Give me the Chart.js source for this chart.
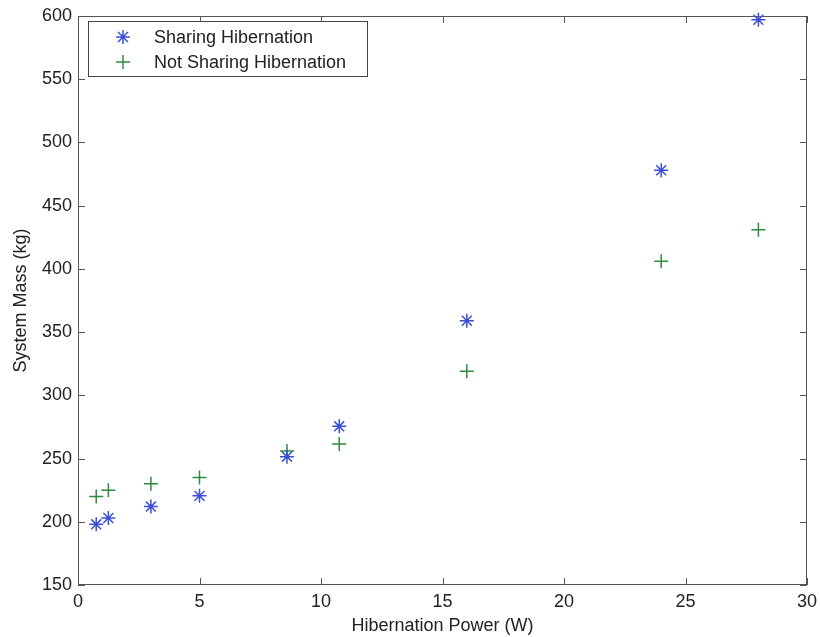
<!DOCTYPE html>
<html>
<head>
<meta charset="utf-8">
<script src="https://cdn.jsdelivr.net/npm/chart.js@4/dist/chart.umd.min.js"></script>
<style>
  html, body { margin: 0; padding: 0; background: #fff; }
  #wrap { width: 820px; height: 637px; }
</style>
</head>
<body>
<div id="wrap"><canvas id="c" width="820" height="637"></canvas></div>
<script>
const powerW = [0.75, 1.25, 3, 5, 8.6, 10.75, 16, 24, 28];
const sharingMass = [198, 203, 212, 220.5, 251.5, 275.5, 359, 478, 597];
const notSharingMass = [220, 225, 230, 235, 256, 261.5, 319, 406, 431];
const seriesLabels = ['Sharing Hibernation', 'Not Sharing Hibernation'];
const xTitle = 'Hibernation Power (W)';
const yTitle = 'System Mass (kg)';

const BLUE = '#3c4fd6';
const GREEN = '#2e8a40';
const AXIS = '#555555';
const FONT = 'Liberation Sans, Arial, Helvetica, sans-serif';

function pts(xs, ys) { return xs.map((x, i) => ({ x: x, y: ys[i] })); }

function drawMarker(ctx, style, x, y, r) {
  ctx.moveTo(x - r, y); ctx.lineTo(x + r, y);
  ctx.moveTo(x, y - r); ctx.lineTo(x, y + r);
  if (style === 'star') {
    const d = r * Math.SQRT1_2;
    ctx.moveTo(x - d, y - d); ctx.lineTo(x + d, y + d);
    ctx.moveTo(x - d, y + d); ctx.lineTo(x + d, y - d);
  }
}

const framePlugin = {
  id: 'frame',
  beforeDatasetsDraw(chart) {
    const ctx = chart.ctx;
    const a = chart.chartArea;
    const xs = chart.scales.x, ys = chart.scales.y;
    const tl = 7;
    ctx.save();
    ctx.strokeStyle = AXIS;
    ctx.lineWidth = 1;
    ctx.strokeRect(a.left + 0.5, a.top + 0.5, a.right - a.left - 1, a.bottom - a.top - 1);
    ctx.beginPath();
    xs.ticks.forEach(t => {
      const px = Math.round(xs.getPixelForValue(t.value)) + 0.5;
      ctx.moveTo(px, a.bottom); ctx.lineTo(px, a.bottom - tl);
      ctx.moveTo(px, a.top); ctx.lineTo(px, a.top + tl);
    });
    ys.ticks.forEach(t => {
      const py = Math.round(ys.getPixelForValue(t.value)) + 0.5;
      ctx.moveTo(a.left, py); ctx.lineTo(a.left + tl, py);
      ctx.moveTo(a.right, py); ctx.lineTo(a.right - tl, py);
    });
    ctx.stroke();
    ctx.restore();
  },
  afterDatasetsDraw(chart) {
    const ctx = chart.ctx;
    const a = chart.chartArea;
    ctx.save();
    const bx = a.left + 10, by = a.top + 5, bw = 279, bh = 55;
    ctx.fillStyle = '#ffffff';
    ctx.fillRect(bx, by, bw, bh);
    ctx.strokeStyle = '#444';
    ctx.lineWidth = 1;
    ctx.strokeRect(bx + 0.5, by + 0.5, bw, bh);
    ctx.font = '18px ' + FONT;
    ctx.textBaseline = 'middle';
    ctx.textAlign = 'left';
    chart.data.datasets.forEach((ds, i) => {
      const cy = by + 16 + i * 25;
      ctx.strokeStyle = ds.borderColor;
      ctx.lineWidth = ds.pointBorderWidth;
      ctx.beginPath();
      drawMarker(ctx, ds.pointStyle, a.left + 45, cy, ds.pointRadius);
      ctx.stroke();
      ctx.fillStyle = '#222';
      ctx.fillText(ds.label, a.left + 76, cy + 1);
    });
    ctx.restore();
  }
};

new Chart(document.getElementById('c'), {
  type: 'scatter',
  data: {
    datasets: [
      {
        label: seriesLabels[0],
        data: pts(powerW, sharingMass),
        pointStyle: 'star',
        pointRadius: 7,
        pointBorderWidth: 1.5,
        borderColor: BLUE,
        backgroundColor: BLUE,
        pointHoverRadius: 7,
        clip: false
      },
      {
        label: seriesLabels[1],
        data: pts(powerW, notSharingMass),
        pointStyle: 'cross',
        pointRadius: 7,
        pointBorderWidth: 1.5,
        borderColor: GREEN,
        backgroundColor: GREEN,
        pointHoverRadius: 7,
        clip: false
      }
    ]
  },
  options: {
    responsive: false,
    animation: false,
    events: [],
    layout: { padding: { left: 0, right: 13, top: 16, bottom: 0 } },
    plugins: {
      legend: { display: false },
      tooltip: { enabled: false }
    },
    scales: {
      x: {
        type: 'linear',
        min: 0, max: 30,
        ticks: { stepSize: 5, color: '#222', font: { size: 18, family: FONT }, padding: 6 },
        grid: { display: false, drawTicks: false },
        border: { display: false },
        title: { display: true, text: xTitle, color: '#222', font: { size: 18, family: FONT }, padding: { top: 0, bottom: 0 } },
        afterFit(s) { s.height = 52; s.paddingLeft = 0; s.paddingRight = 0; }
      },
      y: {
        type: 'linear',
        min: 150, max: 600,
        ticks: { stepSize: 50, color: '#222', font: { size: 18, family: FONT }, padding: 6 },
        grid: { display: false, drawTicks: false },
        border: { display: false },
        title: { display: true, text: yTitle, color: '#222', font: { size: 18, family: FONT }, padding: { top: 10, bottom: 0 } },
        afterFit(s) { s.width = 78; s.paddingTop = 0; s.paddingBottom = 0; }
      }
    }
  },
  plugins: [framePlugin]
});
</script>
</body>
</html>
